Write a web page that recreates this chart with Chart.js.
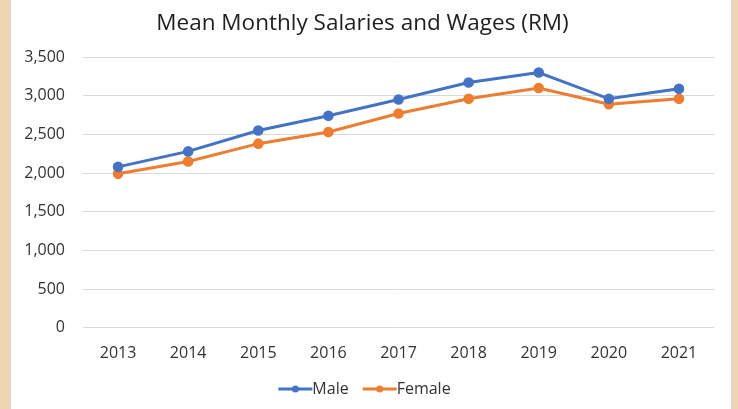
<!DOCTYPE html>
<html>
<head>
<meta charset="utf-8">
<script src="https://cdn.jsdelivr.net/npm/chart.js@4.4.1/dist/chart.umd.min.js"></script>
<style>
    html, body { margin: 0; padding: 0; }
    body { width: 738px; height: 409px; background: #efd6b2; overflow: hidden; }
    .panel {
        position: absolute; left: 10px; top: 0; width: 720px; height: 409px;
        background: #ffffff; border-left: 1px solid #d8d8d8; border-right: 1px solid #d8d8d8;
    }
    canvas { display: block; }
</style>
</head>
<body>
<div class="panel"><canvas id="salary-chart" width="720" height="409"></canvas></div>
<script>
"use strict";

const years = ['2013', '2014', '2015', '2016', '2017', '2018', '2019', '2020', '2021'];
const maleValues = [2080, 2280, 2550, 2740, 2950, 3170, 3300, 2960, 3090];
const femaleValues = [1990, 2150, 2380, 2530, 2770, 2960, 3100, 2890, 2960];

const BLUE = '#4472c4';
const ORANGE = '#ed7d31';
const TEXT = '#333333';
const FONT = "'Open Sans', 'Liberation Sans', sans-serif";

/**
 * Legend marker: short line with a dot in the middle, like the Excel legend.
 * The image is wider than the legend box and the mark sits in its right part,
 * so it ends close to the label text.
 */
function legendMarker(color) {
    const c = document.createElement('canvas');
    c.width = 48;
    c.height = 12;
    const g = c.getContext('2d');
    g.strokeStyle = color;
    g.lineWidth = 3;
    g.beginPath();
    g.moveTo(13, 6);
    g.lineTo(47, 6);
    g.stroke();
    g.fillStyle = color;
    g.beginPath();
    g.arc(30, 6, 3.5, 0, Math.PI * 2);
    g.fill();
    return c;
}

function lineDataset(label, data, color) {
    return {
        label: label,
        data: data,
        borderColor: color,
        backgroundColor: color,
        borderWidth: 3,
        pointRadius: 3.8,
        pointHoverRadius: 4,
        pointBackgroundColor: color,
        pointBorderColor: color,
        pointStyle: 'circle',
        tension: 0
    };
}

const markers = { Male: legendMarker(BLUE), Female: legendMarker(ORANGE) };

new Chart(document.getElementById('salary-chart').getContext('2d'), {
    type: 'line',
    data: {
        labels: years,
        datasets: [
            lineDataset('Male', maleValues, BLUE),
            lineDataset('Female', femaleValues, ORANGE)
        ]
    },
    options: {
        responsive: false,
        animation: false,
        layout: { padding: { left: 0, right: 17, top: 0, bottom: 2 } },
        plugins: {
            title: {
                display: true,
                text: 'Mean Monthly Salaries and Wages (RM)',
                color: '#1f1f1f',
                font: { family: FONT, size: 22.5, weight: 'normal' },
                padding: { top: 10, bottom: 20 }
            },
            legend: {
                position: 'bottom',
                labels: {
                    color: TEXT,
                    font: { family: FONT, size: 16 },
                    usePointStyle: true,
                    pointStyleWidth: 30,
                    boxHeight: 12,
                    padding: 10,
                    generateLabels: (chart) => chart.data.datasets.map((ds, i) => ({
                        text: ds.label,
                        pointStyle: markers[ds.label],
                        fillStyle: ds.borderColor,
                        strokeStyle: ds.borderColor,
                        lineWidth: 0,
                        fontColor: TEXT,
                        datasetIndex: i,
                        hidden: false
                    }))
                }
            },
            tooltip: { enabled: false }
        },
        scales: {
            x: {
                offset: true,
                grid: { display: false },
                border: { display: false },
                ticks: {
                    color: TEXT,
                    font: { family: FONT, size: 16 },
                    padding: 8,
                    maxRotation: 0
                }
            },
            y: {
                min: 0,
                max: 3500,
                afterFit: (scale) => { scale.width = 72; },
                grid: { color: '#d9d9d9', lineWidth: 1, drawTicks: false },
                border: { display: false },
                ticks: {
                    stepSize: 500,
                    color: TEXT,
                    font: { family: FONT, size: 16 },
                    padding: 18,
                    callback: (value) => value.toLocaleString('en-US')
                }
            }
        }
    }
});
</script>
</body>
</html>
